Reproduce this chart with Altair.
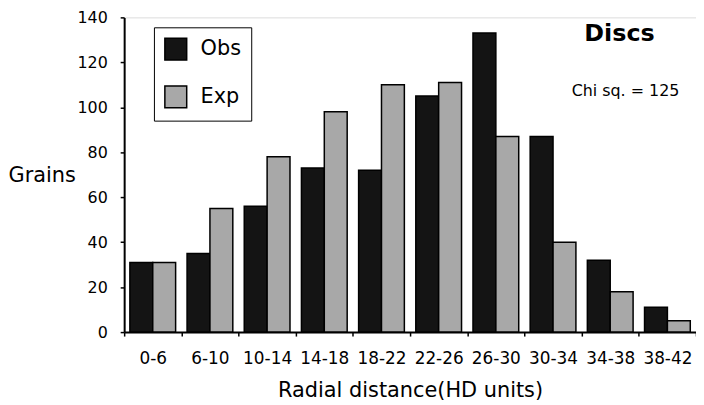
import altair as alt
import pandas as pd

categories = ["0-6", "6-10", "10-14", "14-18", "18-22", "22-26", "26-30", "30-34", "34-38", "38-42"]
obs_values = [31, 35, 56, 73, 72, 105, 133, 87, 32, 11]
exp_values = [31, 55, 78, 98, 110, 111, 87, 40, 18, 5]
series = ["Obs", "Exp"]
y_ticks = [0, 20, 40, 60, 80, 100, 120, 140]

rows = []
for c, o, e in zip(categories, obs_values, exp_values):
    rows.append({"range": c, "series": "Obs", "grains": o})
    rows.append({"range": c, "series": "Exp", "grains": e})
df = pd.DataFrame(rows)

FONT = "DejaVu Sans"

bars = alt.Chart(df).mark_bar(stroke="black", strokeWidth=1.5).encode(
    x=alt.X("range:N", sort=categories,
            scale=alt.Scale(paddingInner=0, paddingOuter=0),
            axis=alt.Axis(title="Radial distance(HD units)", labelAngle=0,
                          tickBand="extent", tickSize=4, tickWidth=1.5, tickColor="black",
                          domainColor="black", domainWidth=2,
                          labelFont=FONT, labelFontSize=17, labelColor="black", labelPadding=15,
                          titleFont=FONT, titleFontSize=21, titleFontWeight="normal",
                          titleColor="black", titleY=65, titleBaseline="alphabetic")),
    xOffset=alt.XOffset("series:N", sort=series,
                        scale=alt.Scale(paddingInner=0, paddingOuter=0.25)),
    y=alt.Y("grains:Q", scale=alt.Scale(domain=[0, 140], nice=False),
            axis=alt.Axis(title="Grains", values=y_ticks, grid=False,
                          tickSize=4, tickWidth=1.5, tickColor="black",
                          domainColor="black", domainWidth=2,
                          labelFont=FONT, labelFontSize=16, labelColor="black", labelPadding=13,
                          titleFont=FONT, titleFontSize=21, titleFontWeight="normal",
                          titleColor="black", titleAngle=0, titleX=-83, titleY=159,
                          titleAlign="center", titleBaseline="middle")),
    color=alt.Color("series:N", sort=series,
                    scale=alt.Scale(domain=series, range=["#141414", "#a8a8a8"]),
                    legend=alt.Legend(title=None, orient="none", legendX=30, legendY=10,
                                      strokeColor="black", fillColor="white", padding=10,
                                      symbolType="square", symbolSize=484,
                                      symbolStrokeColor="black", symbolStrokeWidth=1.5,
                                      labelFont=FONT, labelFontSize=21, labelColor="black",
                                      labelOffset=13, rowPadding=20)),
)

discs = alt.Chart(pd.DataFrame({"t": ["Discs"]})).mark_text(
    font=FONT, fontSize=24, fontWeight="bold", color="black", align="center", baseline="middle"
).encode(text="t:N", x=alt.value(499), y=alt.value(17))

chi = alt.Chart(pd.DataFrame({"t": ["Chi sq. = 125"]})).mark_text(
    font=FONT, fontSize=16, color="black", align="center", baseline="middle"
).encode(text="t:N", x=alt.value(505), y=alt.value(74))

chart = alt.layer(bars, discs, chi).properties(
    width=576, height=317,
    autosize=alt.AutoSizeParams(type="none"),
    padding={"left": 117, "top": 8, "right": 0, "bottom": 74},
).configure_view(stroke=None).configure(background="white")

chart.save("out.html", embed_options={"renderer": "svg", "actions": False})
